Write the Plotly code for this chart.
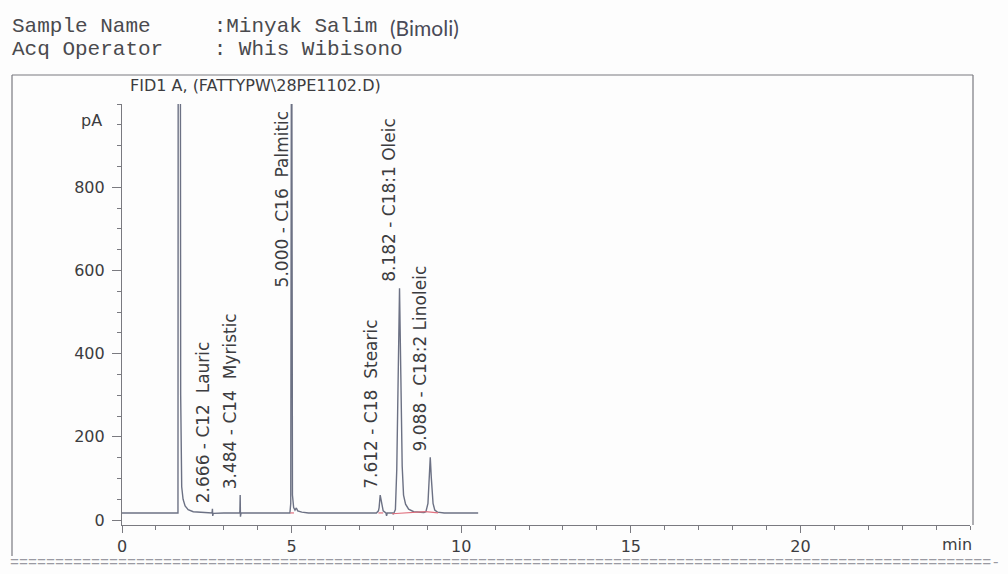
import plotly.graph_objects as go

# FID1 A signal: retention time (min) and detector response (pA)
time_min = [0.00, 1.62, 1.65, 1.68, 1.73, 1.76, 1.80, 1.86, 1.95, 2.10, 2.40, 2.63,
            2.655, 2.666, 2.675, 2.69, 3.00, 3.46, 3.475, 3.484, 3.492, 3.51,
            4.95, 4.975, 5.000, 5.025, 5.06, 5.10, 5.14, 5.18, 5.30, 5.50,
            7.50, 7.56, 7.58, 7.612, 7.66, 7.70, 7.78, 7.80, 7.82, 7.98, 8.00, 8.02,
            8.06, 8.10, 8.14, 8.182, 8.22, 8.26, 8.30, 8.36, 8.45, 8.60, 8.90,
            8.96, 9.02, 9.06, 9.088, 9.12, 9.17, 9.22, 9.30, 9.50, 10.50]
signal_pa = [17, 17, 17, 5000, 300, 80, 50, 34, 25, 20, 18, 17,
             17, 27, 10, 16, 17, 17, 20, 60, 8, 17,
             17, 40, 1500, 60, 30, 24, 29, 22, 19, 17,
             17, 22, 30, 60, 35, 22, 17, 10, 17, 17, 14, 18,
             25, 120, 350, 557, 350, 130, 60, 38, 26, 20, 18,
             20, 40, 110, 151, 100, 40, 24, 19, 17, 17]

# identified peaks
peak_rt = [2.666, 3.484, 5.000, 7.612, 8.182, 9.088]
peak_height = [27, 60, 1500, 60, 557, 151]
peak_name = ["C12  Lauric", "C14  Myristic", "C16  Palmitic",
             "C18  Stearic", "C18:1 Oleic", "C18:2 Linoleic"]

# integration baselines (start, end in min; level in pA)
integ_start = [4.96, 7.56, 7.96, 8.95]
integ_end = [5.07, 7.70, 8.95, 9.32]
integ_lvl_start = [17, 17, 15, 20]
integ_lvl_end = [17, 17, 20, 17]

y_ticks = [0, 200, 400, 600, 800]
x_ticks = [0, 5, 10, 15, 20]

Y_MIN, Y_MAX = -12, 1000
X_MIN, X_MAX = 0, 25

# plot-area geometry in pixels
W, H = 1008, 574
L, R, T, B = 122, 38, 104, 49
PW, PH = W - L - R, H - T - B


def px(xp):
    return (xp - L) / PW


def py(yp):
    return (H - B - yp) / PH


TXT = "#3c3c40"
AX = "#7a7a80"
SANS = "DejaVu Sans"
MONO = "Liberation Mono"

fig = go.Figure()

fig.add_trace(go.Scatter(x=time_min, y=signal_pa, mode="lines",
                         line=dict(color="#6c7184", width=1.4),
                         hoverinfo="skip", showlegend=False))

for xs, xe, ys, ye in zip(integ_start, integ_end, integ_lvl_start, integ_lvl_end):
    fig.add_trace(go.Scatter(x=[xs, xe], y=[ys, ye], mode="lines",
                             line=dict(color="#e0707e", width=1.2),
                             hoverinfo="skip", showlegend=False))

annotations = []
for rt, h, name in zip(peak_rt, peak_height, peak_name):
    base = h if h < Y_MAX else 545
    annotations.append(dict(
        x=rt, y=base, xref="x", yref="y", text=f"{rt:.3f} - {name}",
        textangle=-90, showarrow=False, xanchor="center", yanchor="bottom",
        xshift=-10, yshift=4, font=dict(family=SANS, size=17, color=TXT)))

header = [
    ("Sample Name     :Minyak Salim", 40),
    ("Acq Operator    : Whis Wibisono", 63),
]
for txt, base in header:
    annotations.append(dict(
        x=px(10), y=py(base), xref="paper", yref="paper", text=txt.replace(" ", "&nbsp;"),
        showarrow=False, xanchor="left", yanchor="bottom",
        font=dict(family=MONO, size=21, color="#4a4a4e")))
annotations.append(dict(
    x=px(388), y=py(42), xref="paper", yref="paper", text="(Bimoli)",
    showarrow=False, xanchor="left", yanchor="bottom",
    font=dict(family="Lato", size=21, color="#4a4a58")))

annotations.append(dict(
    x=px(128), y=py(85), xref="paper", yref="paper",
    text="FID1 A, (FATTYPW\\28PE1102.D)", showarrow=False,
    xanchor="left", yanchor="middle", font=dict(family=SANS, size=16, color=TXT)))

annotations.append(dict(
    x=px(104), y=py(120), xref="paper", yref="paper", text="pA",
    showarrow=False, xanchor="right", yanchor="middle",
    font=dict(family=SANS, size=16, color=TXT)))

annotations.append(dict(
    x=px(974), y=py(544), xref="paper", yref="paper", text="min",
    showarrow=False, xanchor="right", yanchor="middle",
    font=dict(family=SANS, size=16, color=TXT)))

# report separator row
annotations.append(dict(
    x=px(8), y=py(574), xref="paper", yref="paper", text="=" * 109 + "-",
    showarrow=False, xanchor="left", yanchor="bottom",
    font=dict(family=MONO, size=15, color="#9a9aa2")))

shapes = [
    dict(type="line", xref="paper", yref="paper",
         x0=px(12), y0=py(75), x1=px(973), y1=py(75), line=dict(color=AX, width=1.2)),
    dict(type="line", xref="paper", yref="paper",
         x0=px(12), y0=py(75), x1=px(12), y1=py(556), line=dict(color=AX, width=1.2)),
    dict(type="line", xref="paper", yref="paper",
         x0=px(973), y0=py(75), x1=px(973), y1=py(525), line=dict(color=AX, width=1.2)),
]

fig.update_layout(
    width=W, height=H,
    margin=dict(l=L, r=R, t=T, b=B, pad=0),
    paper_bgcolor="#fdfdfd", plot_bgcolor="#fdfdfd",
    showlegend=False,
    annotations=annotations, shapes=shapes,
    xaxis=dict(range=[X_MIN, X_MAX], tickvals=x_ticks, ticks="outside", ticklen=7,
               tickcolor=AX, showline=True, linecolor=AX, linewidth=1.2,
               showgrid=False, zeroline=False, ticklabelstandoff=0,
               tickfont=dict(family=SANS, size=16, color=TXT),
               minor=dict(dtick=1, ticks="outside", ticklen=4, tickcolor=AX, showgrid=False)),
    yaxis=dict(range=[Y_MIN, Y_MAX], tickvals=y_ticks, ticks="outside", ticklen=9,
               tickcolor=AX, showline=True, linecolor=AX, linewidth=1.2,
               showgrid=False, zeroline=False, ticklabelstandoff=4,
               tickfont=dict(family=SANS, size=16, color=TXT),
               minor=dict(dtick=50, tick0=0, ticks="outside", ticklen=4,
                          tickcolor=AX, showgrid=False)),
)

fig.write_html("out.html")
